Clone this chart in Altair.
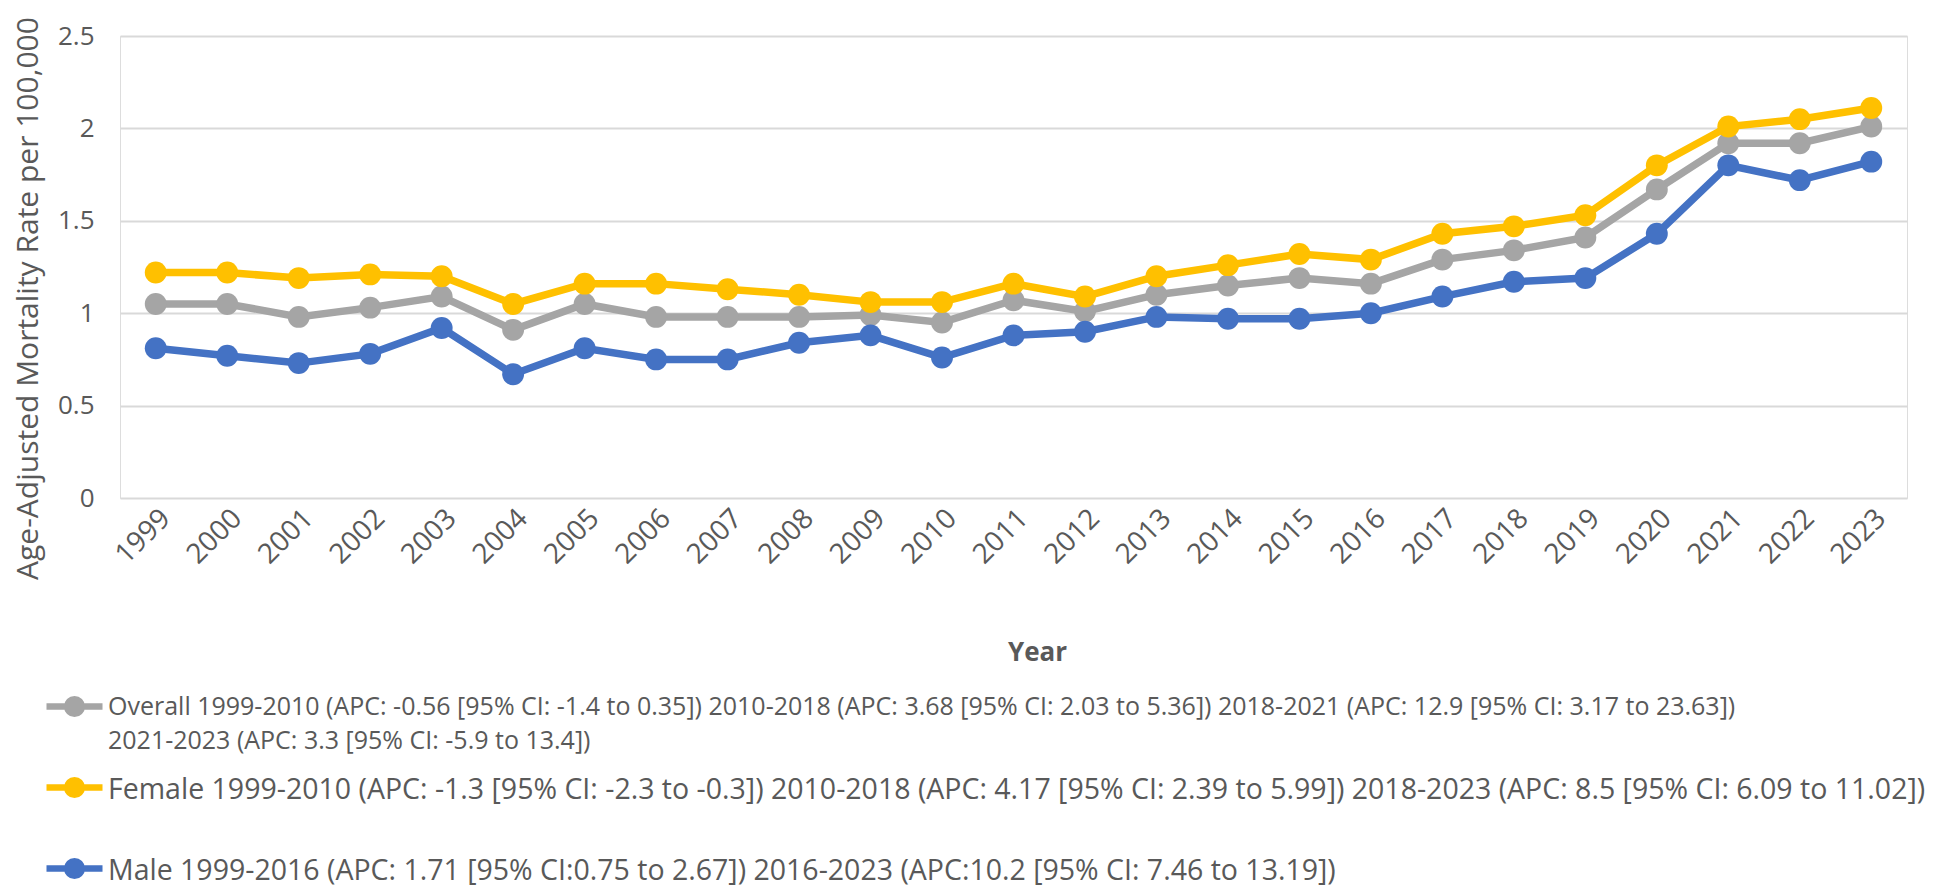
import altair as alt
import pandas as pd

years = [str(y) for y in range(1999, 2024)]
overall = [1.05, 1.05, 0.98, 1.03, 1.09, 0.91, 1.05, 0.98, 0.98, 0.98, 0.99, 0.95, 1.07,
           1.01, 1.10, 1.15, 1.19, 1.16, 1.29, 1.34, 1.41, 1.67, 1.92, 1.92, 2.01]
female = [1.22, 1.22, 1.19, 1.21, 1.20, 1.05, 1.16, 1.16, 1.13, 1.10, 1.06, 1.06, 1.16,
          1.09, 1.20, 1.26, 1.32, 1.29, 1.43, 1.47, 1.53, 1.80, 2.01, 2.05, 2.11]
male = [0.81, 0.77, 0.73, 0.78, 0.92, 0.67, 0.81, 0.75, 0.75, 0.84, 0.88, 0.76, 0.88,
        0.90, 0.98, 0.97, 0.97, 1.00, 1.09, 1.17, 1.19, 1.43, 1.80, 1.72, 1.82]

series = ["Overall", "Female", "Male"]
colors = ["#A5A5A5", "#FFC000", "#4472C4"]
legend_lines = {
    "Overall": ["Overall 1999-2010 (APC: -0.56 [95% CI: -1.4 to 0.35]) 2010-2018 (APC: 3.68 [95% CI: 2.03 to 5.36]) 2018-2021 (APC: 12.9 [95% CI: 3.17 to 23.63])",
                "2021-2023 (APC: 3.3 [95% CI: -5.9 to 13.4])"],
    "Female": ["Female 1999-2010 (APC: -1.3 [95% CI: -2.3 to -0.3]) 2010-2018 (APC: 4.17 [95% CI: 2.39 to 5.99]) 2018-2023 (APC: 8.5 [95% CI: 6.09 to 11.02])"],
    "Male": ["Male 1999-2016 (APC: 1.71 [95% CI:0.75 to 2.67]) 2016-2023 (APC:10.2 [95% CI: 7.46 to 13.19])"],
}
y_ticks = [0, 0.5, 1, 1.5, 2, 2.5]

rows = []
for name, vals in zip(series, [overall, female, male]):
    for yr, v in zip(years, vals):
        rows.append({"year": yr, "rate": v, "series": name})
df = pd.DataFrame(rows)

def js_list(lines):
    return "[" + ",".join("'" + s + "'" for s in lines) + "]"

label_expr = (
    f"datum.label == 'Overall' ? {js_list(legend_lines['Overall'])} : "
    f"datum.label == 'Female' ? {js_list(legend_lines['Female'])} : "
    f"{js_list(legend_lines['Male'])}"
)

# legend glyph: a short line with a filled dot, drawn in unit coordinates
s = 0.667
L = 1.556
r1 = 0.405
r2 = 0.124
sym = (f"M-{L},{s}L{L},{s}"
       f"M-{r1},{s}A{r1},{r1},0,1,1,{r1},{s}A{r1},{r1},0,1,1,-{r1},{s}"
       f"M-{r2},{s}A{r2},{r2},0,1,1,{r2},{s}A{r2},{r2},0,1,1,-{r2},{s}")

FONT = "Open Sans"
GREY = "#595959"

x_enc = alt.X("year:O", sort=years,
              axis=alt.Axis(title="Year", labelAngle=-45, labelAlign="right", labelBaseline="top",
                            labelPadding=6, labelFontSize=28, labelColor=GREY, labelFont=FONT,
                            ticks=False, domain=False, grid=False,
                            titleFontSize=26, titleFontWeight="bold", titleColor=GREY, titleFont=FONT,
                            titleX=917, titleY=154, titleBaseline="middle", titleAlign="center"))
y_enc = alt.Y("rate:Q", scale=alt.Scale(domain=[0, 2.5], nice=False),
              axis=alt.Axis(title="Age-Adjusted Mortality Rate per 100,000", values=y_ticks, format="~g",
                            labelFontSize=26, labelColor=GREY, labelFont=FONT, labelPadding=26,
                            ticks=False, domain=False, grid=True, gridColor="#D9D9D9", gridWidth=2,
                            titleFontSize=30, titleFontWeight="normal", titleColor=GREY, titleFont=FONT,
                            titleX=-92, titleY=262, titleBaseline="middle", titleAlign="center"))

color_scale = alt.Scale(domain=series, range=colors)

lines = alt.Chart(df).mark_line(strokeWidth=7.5).encode(
    x=x_enc, y=y_enc,
    color=alt.Color("series:N", scale=color_scale, sort=series,
                    legend=alt.Legend(title=None, orient="none", legendX=-67, legendY=637,
                                      direction="vertical", columns=1, padding=0,
                                      symbolType=sym, symbolSize=1296, symbolStrokeWidth=6.5,
                                      labelFont=FONT,
                                      labelFontSize=alt.ExprRef(expr="datum.value == 'Overall' ? 25 : 28.5"),
                                      labelColor=GREY,
                                      labelLimit=3000, labelOffset=12, labelBaseline="top",
                                      labelExpr=label_expr, rowPadding=0, gridAlign="all")),
)
points = alt.Chart(df).mark_point(filled=True, size=480, opacity=1).encode(
    x=x_enc, y=y_enc,
    color=alt.Color("series:N", scale=color_scale, sort=series, legend=None),
)

chart = alt.layer(lines, points).properties(
    width=1787, height=462,
    autosize=alt.AutoSizeParams(type="none"),
    padding={"left": 112, "top": 28, "right": 33, "bottom": 390},
).configure_view(stroke=None).configure(style={"guide-label": {"lineHeight": 34}})

chart.save("out.html", embed_options={"renderer": "svg", "actions": False})
